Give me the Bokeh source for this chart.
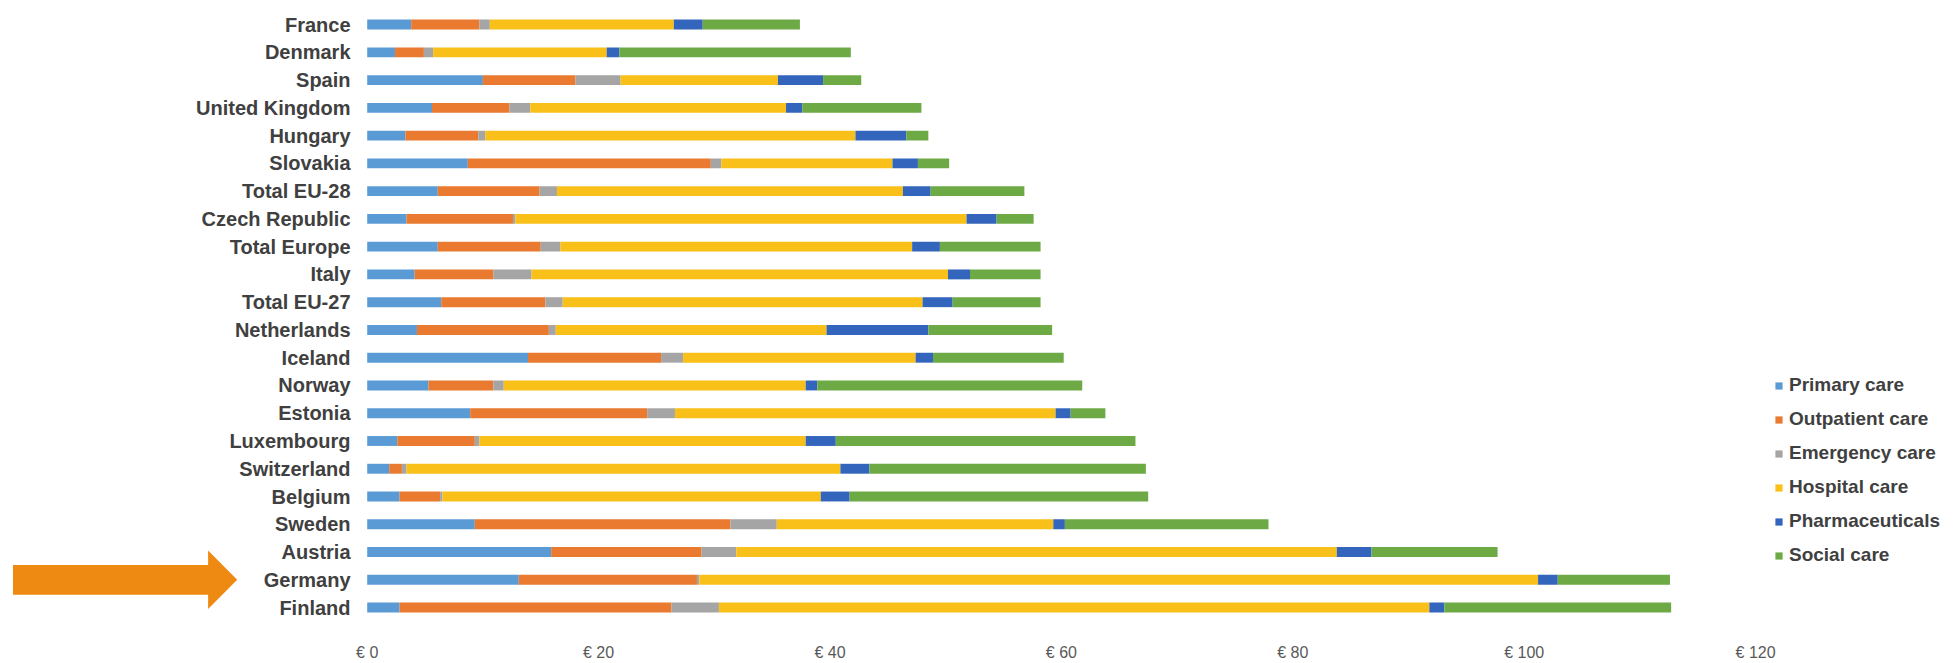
from bokeh.plotting import figure
from bokeh.models import ColumnDataSource, Range1d, FixedTicker, PolyAnnotation
from bokeh.core.properties import value
from bokeh.embed import file_html
from bokeh.resources import INLINE

# ---- data (top to bottom as shown) ----
countries = ["France", "Denmark", "Spain", "United Kingdom", "Hungary", "Slovakia",
             "Total EU-28", "Czech Republic", "Total Europe", "Italy", "Total EU-27",
             "Netherlands", "Iceland", "Norway", "Estonia", "Luxembourg", "Switzerland",
             "Belgium", "Sweden", "Austria", "Germany", "Finland"]
primary_care    = [3.8, 2.4, 10.0, 5.6, 3.3, 8.7, 6.1, 3.4, 6.1, 4.1, 6.4, 4.3, 13.9, 5.3, 8.9, 2.6, 1.9, 2.8, 9.3, 15.9, 13.1, 2.8]
outpatient_care = [5.9, 2.5, 8.0, 6.7, 6.3, 21.0, 8.8, 9.2, 8.9, 6.8, 9.0, 11.4, 11.5, 5.6, 15.3, 6.7, 1.1, 3.5, 22.1, 13.0, 15.4, 23.5]
emergency_care  = [0.9, 0.8, 3.9, 1.8, 0.6, 0.9, 1.5, 0.2, 1.7, 3.3, 1.5, 0.6, 1.9, 0.9, 2.4, 0.4, 0.4, 0.2, 4.0, 3.0, 0.2, 4.1]
hospital_care   = [15.9, 15.0, 13.6, 22.1, 32.0, 14.8, 29.9, 39.0, 30.4, 36.0, 31.1, 23.4, 20.1, 26.1, 32.9, 28.2, 37.5, 32.7, 23.9, 51.9, 72.5, 61.4]
pharmaceuticals = [2.5, 1.1, 3.9, 1.4, 4.4, 2.2, 2.4, 2.6, 2.4, 1.9, 2.6, 8.8, 1.5, 1.0, 1.3, 2.6, 2.5, 2.5, 1.0, 3.0, 1.7, 1.3]
social_care     = [8.4, 20.0, 3.3, 10.3, 1.9, 2.7, 8.1, 3.2, 8.7, 6.1, 7.6, 10.7, 11.3, 22.9, 3.0, 25.9, 23.9, 25.8, 17.6, 10.9, 9.7, 19.6]
series_labels = ["Primary care", "Outpatient care", "Emergency care",
                 "Hospital care", "Pharmaceuticals", "Social care"]
tick_values = [0, 20, 40, 60, 80, 100, 120]
highlight = "Germany"

# ---- styling / layout ----
colors = ["#5B9BD5", "#E97A2F", "#A5A5A5", "#F9C01A", "#3465BD", "#6DAA45"]
W, H = 1957, 663
BORDER_BOTTOM = 37
PX_PER_EUR = 11.57
ZERO_PX = 366.7
ROW_PX = 28.03
TOP_ROW_PX = 24.3
FRAME_H = H - BORDER_BOTTOM

n = len(countries)
idx = [n - 1 - i for i in range(n)]  # France on top
keys = ["primary", "outpatient", "emergency", "hospital", "pharma", "social"]
source = ColumnDataSource(dict(country=countries, idx=idx,
                               primary=primary_care, outpatient=outpatient_care,
                               emergency=emergency_care, hospital=hospital_care,
                               pharma=pharmaceuticals, social=social_care))

xmin = -ZERO_PX / PX_PER_EUR
xmax = xmin + W / PX_PER_EUR
ymax = (n - 1) + TOP_ROW_PX / ROW_PX
ymin = ymax - FRAME_H / ROW_PX

p = figure(width=W, height=H, x_range=Range1d(xmin, xmax), y_range=Range1d(ymin, ymax),
           output_backend="svg", toolbar_location=None, y_axis_location=None,
           min_border_left=0, min_border_right=0, min_border_top=0,
           min_border_bottom=BORDER_BOTTOM)
p.outline_line_color = None
p.xgrid.visible = False
p.ygrid.visible = False
p.background_fill_color = "white"

p.hbar_stack(keys, y="idx", height=10 / ROW_PX, source=source,
             fill_color=colors, line_color=None, legend_label=series_labels)

# row labels
label_x = -16.7 / PX_PER_EUR
p.text(x=label_x, y="idx", text="country", source=source,
       text_align="right", text_baseline="middle",
       text_font=value("Liberation Sans"), text_font_style="bold",
       text_font_size="20px", text_color="#404040")

# x axis
ax = p.xaxis[0]
ax.ticker = FixedTicker(ticks=tick_values)
ax.major_label_overrides = {t: f"€ {t}" for t in tick_values}
ax.axis_line_color = None
ax.major_tick_line_color = None
ax.minor_tick_line_color = None
ax.major_label_standoff = 17
ax.major_label_text_font = "Liberation Sans"
ax.major_label_text_font_size = "16px"
ax.major_label_text_color = "#595959"

# highlight arrow pointing at Germany
gy = idx[countries.index(highlight)]
x0 = (12.5 - ZERO_PX) / PX_PER_EUR
x1 = (207.6 - ZERO_PX) / PX_PER_EUR
x2 = (236.7 - ZERO_PX) / PX_PER_EUR
sh, hh = 15 / ROW_PX, 29.5 / ROW_PX
arrow = PolyAnnotation(xs=[x0, x1, x1, x2, x1, x1, x0],
                       ys=[gy + sh, gy + sh, gy + hh, gy, gy - hh, gy - sh, gy - sh],
                       fill_color="#EE8A12", fill_alpha=1.0, line_color=None)
p.add_layout(arrow)

# legend
lg = p.legend[0]
lg.location = (1774, 54)
lg.padding = 0
lg.margin = 0
lg.spacing = 12
lg.label_height = 22
lg.glyph_width = 9
lg.glyph_height = 9
lg.label_standoff = 6
lg.border_line_color = None
lg.background_fill_alpha = 0
lg.label_text_font = "Liberation Sans"
lg.label_text_font_style = "bold"
lg.label_text_font_size = "19px"
lg.label_text_color = "#404040"

open("out.html", "w").write(file_html(p, INLINE))
